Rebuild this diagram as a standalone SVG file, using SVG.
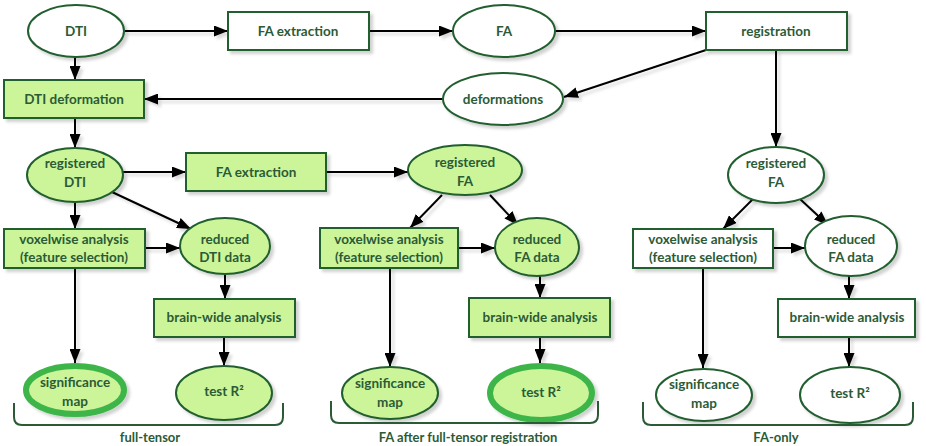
<svg xmlns="http://www.w3.org/2000/svg" width="926" height="446" viewBox="0 0 926 446">
<defs>
<filter id="sh" x="-20%" y="-20%" width="140%" height="150%">
<feDropShadow dx="3" dy="3" stdDeviation="1.5" flood-color="#000" flood-opacity="0.18"/>
</filter>
<filter id="shl" filterUnits="userSpaceOnUse" x="0" y="0" width="926" height="446">
<feDropShadow dx="3" dy="3" stdDeviation="1.5" flood-color="#000" flood-opacity="0.15"/>
</filter>
<marker id="ah" viewBox="0 0 14 11" markerWidth="14" markerHeight="11" refX="14" refY="5.5" orient="auto" markerUnits="userSpaceOnUse">
<path d="M0,0 L14,5.5 L0,11 z" fill="#000"/>
</marker>
</defs>
<style>
.n{stroke:#215e2f;stroke-width:2;filter:url(#sh)}
.w{fill:#ffffff}
.g{fill:#ccf59a}
.hl{stroke:#3db54a;stroke-width:6}
text{font-family:Lato,"Open Sans","Liberation Sans",sans-serif;font-weight:bold;font-size:13.5px;fill:#2b5b36;text-anchor:middle}
.e{stroke:#000;stroke-width:2;fill:none;marker-end:url(#ah)}
.br{stroke:#2b5b36;stroke-width:2;fill:none}
.lb{font-size:13px}
</style>
<rect width="926" height="446" fill="#fff"/>
<g id="connectors" filter="url(#shl)">
<path class="e" d="M124,31 L228,31"/>
<path class="e" d="M369,31 L453,31"/>
<path class="e" d="M555,31 L706,31"/>
<path class="e" d="M706,50 L564,97"/>
<path class="e" d="M443,99 L144,99"/>
<path class="e" d="M75,57 L75,80"/>
<path class="e" d="M75,118 L75,148"/>
<path class="e" d="M776,50 L776,147"/>
<path class="e" d="M123,172 L186,172"/>
<path class="e" d="M326,172 L408,172"/>
<path class="e" d="M75,202 L75,229"/>
<path class="e" d="M112,192 L191,229"/>
<path class="e" d="M145,248 L180,248"/>
<path class="e" d="M442,195 L410,228"/>
<path class="e" d="M490,195 L518,225"/>
<path class="e" d="M458,248 L495,248"/>
<path class="e" d="M753,199 L723,229"/>
<path class="e" d="M800,199 L828,225"/>
<path class="e" d="M773,248 L805,248"/>
<path class="e" d="M225,274 L225,299"/>
<path class="e" d="M540,276 L540,298"/>
<path class="e" d="M849,276 L849,299"/>
<path class="e" d="M75,268 L75,363"/>
<path class="e" d="M390,268 L390,367"/>
<path class="e" d="M703,268 L703,368"/>
<path class="e" d="M224,337 L224,366"/>
<path class="e" d="M540,337 L540,363"/>
<path class="e" d="M849,337 L849,367"/>
</g>
<g id="dti"><ellipse class="n w" cx="76" cy="31" rx="48" ry="26"/><text x="76" y="36">DTI</text></g>
<g id="fa-extraction-top"><rect class="n w" x="228" y="12" width="141" height="38"/><text x="298" y="36">FA extraction</text></g>
<g id="fa"><ellipse class="n w" cx="504" cy="31" rx="51" ry="26"/><text x="504" y="36">FA</text></g>
<g id="registration"><rect class="n w" x="706" y="12" width="141" height="38"/><text x="776" y="36">registration</text></g>
<g id="dti-deformation"><rect class="n g" x="4" y="80" width="140" height="38"/><text x="74" y="104">DTI deformation</text></g>
<g id="deformations"><ellipse class="n w" cx="503" cy="99" rx="60" ry="26"/><text x="503" y="104">deformations</text></g>
<g id="registered-dti"><ellipse class="n g" cx="75" cy="175" rx="48" ry="27"/><text x="75" y="168">registered</text><text x="75" y="187">DTI</text></g>
<g id="fa-extraction-mid"><rect class="n g" x="186" y="153" width="140" height="38"/><text x="256" y="177">FA extraction</text></g>
<g id="registered-fa-mid"><ellipse class="n g" cx="465" cy="170" rx="57" ry="25"/><text x="465" y="167">registered</text><text x="465" y="186">FA</text></g>
<g id="registered-fa-right"><ellipse class="n w" cx="776" cy="175" rx="48" ry="28"/><text x="776" y="168">registered</text><text x="776" y="187">FA</text></g>
<g id="voxelwise-left"><rect class="n g" x="4" y="229" width="141" height="39"/><text x="74" y="244">voxelwise analysis</text><text x="74" y="262">(feature selection)</text></g>
<g id="reduced-dti"><ellipse class="n g" cx="225" cy="246" rx="45" ry="28"/><text x="225" y="244">reduced</text><text x="225" y="262">DTI data</text></g>
<g id="voxelwise-mid"><rect class="n g" x="320" y="228" width="138" height="40"/><text x="389" y="244">voxelwise analysis</text><text x="389" y="262">(feature selection)</text></g>
<g id="reduced-fa-mid"><ellipse class="n g" cx="537" cy="247" rx="42" ry="29"/><text x="537" y="244">reduced</text><text x="537" y="262">FA data</text></g>
<g id="voxelwise-right"><rect class="n w" x="633" y="229" width="140" height="39"/><text x="703" y="244">voxelwise analysis</text><text x="703" y="262">(feature selection)</text></g>
<g id="reduced-fa-right"><ellipse class="n w" cx="851" cy="246" rx="46" ry="30"/><text x="851" y="244">reduced</text><text x="851" y="262">FA data</text></g>
<g id="brainwide-left"><rect class="n g" x="154" y="299" width="141" height="38"/><text x="224" y="322">brain-wide analysis</text></g>
<g id="brainwide-mid"><rect class="n g" x="469" y="298" width="141" height="39"/><text x="540" y="322">brain-wide analysis</text></g>
<g id="brainwide-right"><rect class="n w" x="778" y="299" width="137" height="38"/><text x="847" y="322">brain-wide analysis</text></g>
<g id="significance-left"><ellipse class="n g hl" cx="75" cy="390" rx="49" ry="24"/><text x="75" y="387">significance</text><text x="75" y="406">map</text></g>
<g id="test-r2-left"><ellipse class="n g" cx="224" cy="393" rx="48" ry="27"/><text x="224" y="396">test R²</text></g>
<g id="significance-mid"><ellipse class="n g" cx="390" cy="393" rx="48" ry="26"/><text x="390" y="388">significance</text><text x="390" y="407">map</text></g>
<g id="test-r2-mid"><ellipse class="n g hl" cx="541" cy="393" rx="51" ry="27"/><text x="541" y="397">test R²</text></g>
<g id="significance-right"><ellipse class="n w" cx="704" cy="395" rx="48" ry="26"/><text x="704" y="389">significance</text><text x="704" y="408">map</text></g>
<g id="test-r2-right"><ellipse class="n w" cx="850" cy="395" rx="50" ry="28"/><text x="850" y="398">test R²</text></g>
<g id="group-labels">
<path class="br" d="M14,403 L14,417 Q14,425 22,425 L275,425 Q283,425 283,417 L283,403"/>
<path class="br" d="M331,401 L331,415 Q331,423 339,423 L590,423 Q598,423 598,415 L598,401"/>
<path class="br" d="M643,402 L643,417 Q643,425 651,425 L905,425 Q913,425 913,417 L913,402"/>
<text class="lb" x="150" y="442">full-tensor</text>
<text class="lb" x="468" y="442">FA after full-tensor registration</text>
<text class="lb" x="776" y="442">FA-only</text>
</g>
</svg>
